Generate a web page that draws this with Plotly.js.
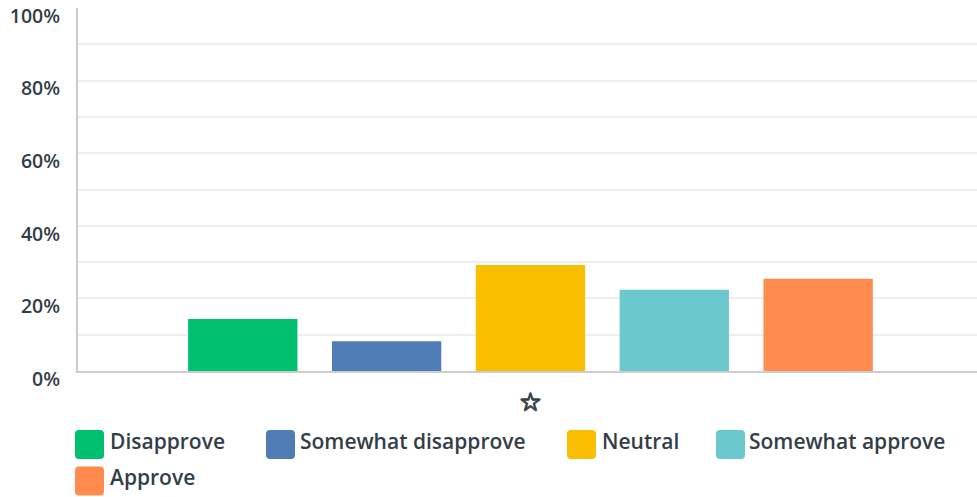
<!DOCTYPE html>
<html>
<head>
<meta charset="utf-8">
<script src="https://cdn.plot.ly/plotly-3.0.1.min.js"></script>
<style>html,body{margin:0;padding:0;background:#fff;}#chart{width:977px;height:497px;}</style>
</head>
<body>
<div id="chart"></div>
<script>
// ---- data ----
const category = ["☆"];
const seriesNames = ["Disapprove", "Somewhat disapprove", "Neutral", "Somewhat approve", "Approve"];
const seriesValues = [14.3, 8.2, 29.2, 22.4, 25.4];
const seriesColors = ["#00bf6f", "#507cb6", "#f9be00", "#6bc8cd", "#ff8b4f"];
const yTickVals = [0, 20, 40, 60, 80, 100];
const yTickText = ["0%", "20%", "40%", "60%", "80%", "100%"];

// ---- layout geometry ----
const W = 977, H = 497;
const M = {l: 78, r: 0, t: 8, b: 126};
const PW = W - M.l - M.r, PH = H - M.t - M.b;
const px2x = px => (px - M.l) / PW;
const py2y = py => (H - M.b - py) / PH;
// legend item placement (pixels): [square left, text left, row center y]
const legendPos = [[75, 108, 444.5], [266, 298, 444.5], [567, 600, 444.5], [716, 747, 444.5], [75, 108, 481]];
const textColor = "#333e48";
const FONT = "Open Sans, sans-serif";

const traces = seriesNames.map((name, i) => ({
  type: "bar",
  name: name,
  x: category,
  y: [seriesValues[i]],
  marker: {color: seriesColors[i]},
  hoverinfo: "skip"
}));

const shapes = [], annotations = [];
const S = 29, R = 4;
function roundedSquare(x0, y0, s, r) {
  const h = s / 2;
  return `M ${x0 - h + r} ${y0 - h} L ${x0 + h - r} ${y0 - h} Q ${x0 + h} ${y0 - h} ${x0 + h} ${y0 - h + r} ` +
         `L ${x0 + h} ${y0 + h - r} Q ${x0 + h} ${y0 + h} ${x0 + h - r} ${y0 + h} ` +
         `L ${x0 - h + r} ${y0 + h} Q ${x0 - h} ${y0 + h} ${x0 - h} ${y0 + h - r} ` +
         `L ${x0 - h} ${y0 - h + r} Q ${x0 - h} ${y0 - h} ${x0 - h + r} ${y0 - h} Z`;
}
seriesNames.forEach((name, i) => {
  const [sx, tx, cy] = legendPos[i];
  shapes.push({
    type: "path", xref: "paper", yref: "paper",
    xsizemode: "pixel", ysizemode: "pixel",
    xanchor: px2x(sx + S / 2), yanchor: py2y(cy),
    path: roundedSquare(0, 0, S, R),
    fillcolor: seriesColors[i], line: {width: 0}
  });
  annotations.push({
    xref: "paper", yref: "paper", x: px2x(tx), y: py2y(cy - 4),
    xanchor: "left", yanchor: "middle", showarrow: false,
    text: name, font: {family: FONT, size: 21, color: textColor, weight: 600}
  });
});

const starShadow = "0.7px 0 0 #333e48, -0.7px 0 0 #333e48, 0 0.7px 0 #333e48, 0 -0.7px 0 #333e48";

const layout = {
  width: W, height: H,
  margin: M,
  paper_bgcolor: "#fff", plot_bgcolor: "#fff",
  showlegend: false,
  barmode: "group", bargap: 0.2, bargroupgap: 0.24,
  font: {family: FONT, color: textColor},
  xaxis: {
    type: "category", range: [-0.5033, 0.4967],
    showgrid: false, zeroline: false,
    showline: true, linecolor: "#cccccc", linewidth: 2,
    ticks: "", ticklabelstandoff: 7,
    tickfont: {family: "DejaVu Sans, sans-serif", size: 26, color: textColor, shadow: starShadow},
    fixedrange: true
  },
  yaxis: {
    range: [0, 100], tickvals: yTickVals, ticktext: yTickText,
    showgrid: true, gridcolor: "#eeeeee", gridwidth: 2,
    minor: {dtick: 10, showgrid: true, gridcolor: "#eeeeee", gridwidth: 2},
    zeroline: false, showline: true, linecolor: "#cccccc", linewidth: 2,
    ticks: "", ticklabelstandoff: 12, ticklabelshift: 8,
    tickfont: {family: FONT, size: 19.5, color: textColor, weight: 600},
    fixedrange: true
  },
  shapes: shapes,
  annotations: annotations
};

Plotly.newPlot("chart", traces, layout, {displayModeBar: false, staticPlot: true});
</script>
</body>
</html>
